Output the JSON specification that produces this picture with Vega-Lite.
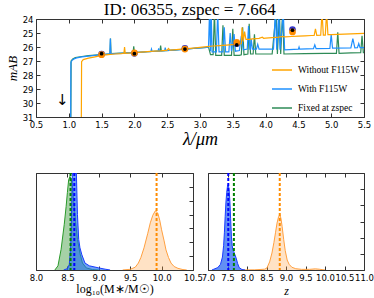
{
  "$schema": "https://vega.github.io/schema/vega-lite/v6.json",
  "padding": {"left": 5, "top": 0, "right": 2, "bottom": 0},
  "background": "white",
  "title": {"text": "ID: 06355, zspec = 7.664", "font": "Liberation Serif", "fontSize": 17, "fontWeight": "normal", "anchor": "middle", "offset": -4, "color": "#000"},
  "bounds": "flush",
  "spacing": 56,
  "resolve": {"scale": {"color": "independent"}, "legend": {"color": "independent"}},
  "datasets": {
    "sed": [
      {"m": "Fixed at zspec", "x": 1.03, "y": 32}, {"m": "Fixed at zspec", "x": 1.035, "y": 27.0}, {"m": "Fixed at zspec", "x": 1.06, "y": 26.85}, {"m": "Fixed at zspec", "x": 1.1, "y": 26.75}, {"m": "Fixed at zspec", "x": 1.2, "y": 26.68}, {"m": "Fixed at zspec", "x": 1.3, "y": 26.62}, {"m": "Fixed at zspec", "x": 1.4, "y": 26.58}, {"m": "Fixed at zspec", "x": 1.5, "y": 26.54}, {"m": "Fixed at zspec", "x": 1.6, "y": 26.5}, {"m": "Fixed at zspec", "x": 1.628, "y": 26.5}, {"m": "Fixed at zspec", "x": 1.636, "y": 25.4}, {"m": "Fixed at zspec", "x": 1.644, "y": 26.48}, {"m": "Fixed at zspec", "x": 1.8, "y": 26.44}, {"m": "Fixed at zspec", "x": 1.98, "y": 26.4}, {"m": "Fixed at zspec", "x": 1.99, "y": 25.95}, {"m": "Fixed at zspec", "x": 2.0, "y": 26.4}, {"m": "Fixed at zspec", "x": 2.2, "y": 26.34}, {"m": "Fixed at zspec", "x": 2.39, "y": 26.28}, {"m": "Fixed at zspec", "x": 2.4, "y": 25.9}, {"m": "Fixed at zspec", "x": 2.41, "y": 26.28}, {"m": "Fixed at zspec", "x": 2.6, "y": 26.22}, {"m": "Fixed at zspec", "x": 2.75, "y": 26.16}, {"m": "Fixed at zspec", "x": 3.0, "y": 26.06}, {"m": "Fixed at zspec", "x": 3.1, "y": 26.02}, {"m": "Fixed at zspec", "x": 3.13, "y": 26.0}, {"m": "Fixed at zspec", "x": 3.16, "y": 26.55}, {"m": "Fixed at zspec", "x": 3.2, "y": 26.55}, {"m": "Fixed at zspec", "x": 3.22, "y": 23.5}, {"m": "Fixed at zspec", "x": 3.24, "y": 26.6}, {"m": "Fixed at zspec", "x": 3.33, "y": 26.6}, {"m": "Fixed at zspec", "x": 3.35, "y": 24.45}, {"m": "Fixed at zspec", "x": 3.37, "y": 26.6}, {"m": "Fixed at zspec", "x": 3.48, "y": 26.6}, {"m": "Fixed at zspec", "x": 3.5, "y": 24.7}, {"m": "Fixed at zspec", "x": 3.52, "y": 26.6}, {"m": "Fixed at zspec", "x": 3.6, "y": 26.6}, {"m": "Fixed at zspec", "x": 3.63, "y": 26.55}, {"m": "Fixed at zspec", "x": 3.65, "y": 24.6}, {"m": "Fixed at zspec", "x": 3.67, "y": 26.55}, {"m": "Fixed at zspec", "x": 3.73, "y": 26.5}, {"m": "Fixed at zspec", "x": 3.75, "y": 24.35}, {"m": "Fixed at zspec", "x": 3.77, "y": 26.5}, {"m": "Fixed at zspec", "x": 3.81, "y": 26.5}, {"m": "Fixed at zspec", "x": 3.83, "y": 25.1}, {"m": "Fixed at zspec", "x": 3.85, "y": 26.5}, {"m": "Fixed at zspec", "x": 4.1, "y": 26.5}, {"m": "Fixed at zspec", "x": 4.16, "y": 23.5}, {"m": "Fixed at zspec", "x": 4.18, "y": 26.5}, {"m": "Fixed at zspec", "x": 4.21, "y": 23.5}, {"m": "Fixed at zspec", "x": 4.23, "y": 26.5}, {"m": "Fixed at zspec", "x": 4.26, "y": 23.5}, {"m": "Fixed at zspec", "x": 4.28, "y": 26.5}, {"m": "Fixed at zspec", "x": 4.6, "y": 26.48}, {"m": "Fixed at zspec", "x": 4.9, "y": 26.45}, {"m": "Fixed at zspec", "x": 5.08, "y": 26.45}, {"m": "Fixed at zspec", "x": 5.1, "y": 24.95}, {"m": "Fixed at zspec", "x": 5.12, "y": 26.45}, {"m": "Fixed at zspec", "x": 5.3, "y": 26.42}, {"m": "Fixed at zspec", "x": 5.45, "y": 26.4}, {"m": "Fixed at zspec", "x": 5.47, "y": 25.2}, {"m": "Fixed at zspec", "x": 5.49, "y": 26.4}, {"m": "Fixed at zspec", "x": 5.5, "y": 26.4},
      {"m": "With F115W", "x": 1.028, "y": 32}, {"m": "With F115W", "x": 1.032, "y": 27.1}, {"m": "With F115W", "x": 1.05, "y": 26.95}, {"m": "With F115W", "x": 1.08, "y": 26.85}, {"m": "With F115W", "x": 1.12, "y": 26.78}, {"m": "With F115W", "x": 1.2, "y": 26.7}, {"m": "With F115W", "x": 1.3, "y": 26.65}, {"m": "With F115W", "x": 1.4, "y": 26.6}, {"m": "With F115W", "x": 1.5, "y": 26.55}, {"m": "With F115W", "x": 1.6, "y": 26.5}, {"m": "With F115W", "x": 1.626, "y": 26.5}, {"m": "With F115W", "x": 1.633, "y": 25.4}, {"m": "With F115W", "x": 1.64, "y": 26.48}, {"m": "With F115W", "x": 1.7, "y": 26.47}, {"m": "With F115W", "x": 1.8, "y": 26.45}, {"m": "With F115W", "x": 1.9, "y": 26.42}, {"m": "With F115W", "x": 2.0, "y": 26.4}, {"m": "With F115W", "x": 2.1, "y": 26.37}, {"m": "With F115W", "x": 2.2, "y": 26.34}, {"m": "With F115W", "x": 2.25, "y": 26.33}, {"m": "With F115W", "x": 2.26, "y": 26.15}, {"m": "With F115W", "x": 2.27, "y": 26.32}, {"m": "With F115W", "x": 2.36, "y": 26.3}, {"m": "With F115W", "x": 2.37, "y": 26.1}, {"m": "With F115W", "x": 2.38, "y": 26.29}, {"m": "With F115W", "x": 2.46, "y": 26.27}, {"m": "With F115W", "x": 2.47, "y": 26.05}, {"m": "With F115W", "x": 2.48, "y": 26.26}, {"m": "With F115W", "x": 2.6, "y": 26.22}, {"m": "With F115W", "x": 2.75, "y": 26.17}, {"m": "With F115W", "x": 2.9, "y": 26.1}, {"m": "With F115W", "x": 3.0, "y": 26.06}, {"m": "With F115W", "x": 3.1, "y": 26.02}, {"m": "With F115W", "x": 3.13, "y": 26.0}, {"m": "With F115W", "x": 3.145, "y": 23.5}, {"m": "With F115W", "x": 3.16, "y": 26.3}, {"m": "With F115W", "x": 3.17, "y": 23.5}, {"m": "With F115W", "x": 3.185, "y": 26.35}, {"m": "With F115W", "x": 3.25, "y": 26.35}, {"m": "With F115W", "x": 3.27, "y": 23.5}, {"m": "With F115W", "x": 3.29, "y": 26.35}, {"m": "With F115W", "x": 3.35, "y": 26.35}, {"m": "With F115W", "x": 3.37, "y": 24.6}, {"m": "With F115W", "x": 3.39, "y": 26.35}, {"m": "With F115W", "x": 3.44, "y": 26.35}, {"m": "With F115W", "x": 3.46, "y": 25.0}, {"m": "With F115W", "x": 3.48, "y": 26.3}, {"m": "With F115W", "x": 3.52, "y": 25.07}, {"m": "With F115W", "x": 3.54, "y": 26.3}, {"m": "With F115W", "x": 3.6, "y": 26.25}, {"m": "With F115W", "x": 3.63, "y": 25.2}, {"m": "With F115W", "x": 3.66, "y": 26.2}, {"m": "With F115W", "x": 3.72, "y": 26.15}, {"m": "With F115W", "x": 3.74, "y": 24.5}, {"m": "With F115W", "x": 3.76, "y": 26.15}, {"m": "With F115W", "x": 3.77, "y": 26.15}, {"m": "With F115W", "x": 3.78, "y": 25.43}, {"m": "With F115W", "x": 3.8, "y": 26.15}, {"m": "With F115W", "x": 3.86, "y": 26.15}, {"m": "With F115W", "x": 3.88, "y": 25.8}, {"m": "With F115W", "x": 3.9, "y": 26.15}, {"m": "With F115W", "x": 4.12, "y": 26.15}, {"m": "With F115W", "x": 4.15, "y": 23.5}, {"m": "With F115W", "x": 4.17, "y": 26.2}, {"m": "With F115W", "x": 4.2, "y": 23.5}, {"m": "With F115W", "x": 4.22, "y": 26.2}, {"m": "With F115W", "x": 4.27, "y": 23.5}, {"m": "With F115W", "x": 4.29, "y": 26.2}, {"m": "With F115W", "x": 4.5, "y": 26.15}, {"m": "With F115W", "x": 4.51, "y": 26.0}, {"m": "With F115W", "x": 4.52, "y": 26.15}, {"m": "With F115W", "x": 4.73, "y": 26.12}, {"m": "With F115W", "x": 4.75, "y": 25.85}, {"m": "With F115W", "x": 4.77, "y": 26.12}, {"m": "With F115W", "x": 4.98, "y": 26.1}, {"m": "With F115W", "x": 5.0, "y": 25.1}, {"m": "With F115W", "x": 5.02, "y": 26.08}, {"m": "With F115W", "x": 5.3, "y": 26.06}, {"m": "With F115W", "x": 5.33, "y": 25.4}, {"m": "With F115W", "x": 5.36, "y": 26.06}, {"m": "With F115W", "x": 5.4, "y": 26.05}, {"m": "With F115W", "x": 5.42, "y": 25.75}, {"m": "With F115W", "x": 5.44, "y": 26.05}, {"m": "With F115W", "x": 5.5, "y": 26.05},
      {"m": "Without F115W", "x": 1.19, "y": 32}, {"m": "Without F115W", "x": 1.195, "y": 27.05}, {"m": "Without F115W", "x": 1.22, "y": 26.9}, {"m": "Without F115W", "x": 1.3, "y": 26.8}, {"m": "Without F115W", "x": 1.4, "y": 26.7}, {"m": "Without F115W", "x": 1.5, "y": 26.6}, {"m": "Without F115W", "x": 1.6, "y": 26.55}, {"m": "Without F115W", "x": 1.7, "y": 26.5}, {"m": "Without F115W", "x": 1.8, "y": 26.47}, {"m": "Without F115W", "x": 1.84, "y": 26.45}, {"m": "Without F115W", "x": 1.85, "y": 26.0}, {"m": "Without F115W", "x": 1.86, "y": 26.45}, {"m": "Without F115W", "x": 1.95, "y": 26.42}, {"m": "Without F115W", "x": 1.99, "y": 26.4}, {"m": "Without F115W", "x": 2.0, "y": 26.2}, {"m": "Without F115W", "x": 2.01, "y": 26.4}, {"m": "Without F115W", "x": 2.1, "y": 26.37}, {"m": "Without F115W", "x": 2.2, "y": 26.33}, {"m": "Without F115W", "x": 2.3, "y": 26.3}, {"m": "Without F115W", "x": 2.4, "y": 26.27}, {"m": "Without F115W", "x": 2.5, "y": 26.22}, {"m": "Without F115W", "x": 2.52, "y": 26.1}, {"m": "Without F115W", "x": 2.54, "y": 26.22}, {"m": "Without F115W", "x": 2.6, "y": 26.2}, {"m": "Without F115W", "x": 2.75, "y": 26.14}, {"m": "Without F115W", "x": 2.9, "y": 26.08}, {"m": "Without F115W", "x": 3.0, "y": 26.03}, {"m": "Without F115W", "x": 3.1, "y": 25.98}, {"m": "Without F115W", "x": 3.2, "y": 25.93}, {"m": "Without F115W", "x": 3.3, "y": 25.9}, {"m": "Without F115W", "x": 3.4, "y": 25.87}, {"m": "Without F115W", "x": 3.5, "y": 25.83}, {"m": "Without F115W", "x": 3.6, "y": 25.8}, {"m": "Without F115W", "x": 3.63, "y": 25.75}, {"m": "Without F115W", "x": 3.64, "y": 24.6}, {"m": "Without F115W", "x": 3.66, "y": 25.6}, {"m": "Without F115W", "x": 3.68, "y": 24.9}, {"m": "Without F115W", "x": 3.7, "y": 25.45}, {"m": "Without F115W", "x": 3.75, "y": 25.45}, {"m": "Without F115W", "x": 3.8, "y": 25.42}, {"m": "Without F115W", "x": 3.85, "y": 25.4}, {"m": "Without F115W", "x": 3.9, "y": 25.38}, {"m": "Without F115W", "x": 3.95, "y": 25.3}, {"m": "Without F115W", "x": 3.97, "y": 25.38}, {"m": "Without F115W", "x": 4.0, "y": 25.36}, {"m": "Without F115W", "x": 4.1, "y": 25.33}, {"m": "Without F115W", "x": 4.2, "y": 25.3}, {"m": "Without F115W", "x": 4.25, "y": 25.25}, {"m": "Without F115W", "x": 4.3, "y": 25.28}, {"m": "Without F115W", "x": 4.4, "y": 25.25}, {"m": "Without F115W", "x": 4.5, "y": 25.22}, {"m": "Without F115W", "x": 4.6, "y": 25.2}, {"m": "Without F115W", "x": 4.7, "y": 25.18}, {"m": "Without F115W", "x": 4.74, "y": 25.18}, {"m": "Without F115W", "x": 4.76, "y": 24.7}, {"m": "Without F115W", "x": 4.78, "y": 25.17}, {"m": "Without F115W", "x": 4.84, "y": 25.16}, {"m": "Without F115W", "x": 4.86, "y": 23.5}, {"m": "Without F115W", "x": 4.88, "y": 25.15}, {"m": "Without F115W", "x": 4.91, "y": 25.15}, {"m": "Without F115W", "x": 4.93, "y": 23.5}, {"m": "Without F115W", "x": 4.95, "y": 25.12}, {"m": "Without F115W", "x": 5.0, "y": 25.12}, {"m": "Without F115W", "x": 5.1, "y": 25.1}, {"m": "Without F115W", "x": 5.2, "y": 25.08}, {"m": "Without F115W", "x": 5.3, "y": 25.06}, {"m": "Without F115W", "x": 5.4, "y": 25.04}, {"m": "Without F115W", "x": 5.5, "y": 25.02}
    ],
    "phot_with": [{"x": 1.5, "y": 26.5}, {"x": 2.0, "y": 26.45}, {"x": 2.77, "y": 26.1}, {"x": 3.56, "y": 25.75}, {"x": 4.41, "y": 24.75}],
    "phot_without": [{"x": 1.5, "y": 26.55}, {"x": 2.0, "y": 26.42}, {"x": 2.77, "y": 26.15}, {"x": 3.56, "y": 25.67}, {"x": 4.41, "y": 24.92}],
    "phot_obs": [{"x": 1.5, "y": 26.48}, {"x": 2.0, "y": 26.48}, {"x": 2.77, "y": 26.15}, {"x": 3.56, "y": 25.85}, {"x": 4.41, "y": 24.8}],
    "limit": [{"x": 0.9, "y": 29.75}],
    "mass": [
      {"fit": "Without", "x": 9.38, "p": 0}, {"fit": "Without", "x": 9.5, "p": 0.05}, {"fit": "Without", "x": 9.58, "p": 0.2}, {"fit": "Without", "x": 9.63, "p": 0.5}, {"fit": "Without", "x": 9.67, "p": 0.9}, {"fit": "Without", "x": 9.72, "p": 1.6}, {"fit": "Without", "x": 9.78, "p": 2.65}, {"fit": "Without", "x": 9.82, "p": 3.4}, {"fit": "Without", "x": 9.86, "p": 3.95}, {"fit": "Without", "x": 9.9, "p": 4.27}, {"fit": "Without", "x": 9.94, "p": 4.1}, {"fit": "Without", "x": 9.97, "p": 3.6}, {"fit": "Without", "x": 10.0, "p": 2.9}, {"fit": "Without", "x": 10.04, "p": 2.1}, {"fit": "Without", "x": 10.07, "p": 1.45}, {"fit": "Without", "x": 10.11, "p": 0.9}, {"fit": "Without", "x": 10.15, "p": 0.5}, {"fit": "Without", "x": 10.2, "p": 0.25}, {"fit": "Without", "x": 10.26, "p": 0.12}, {"fit": "Without", "x": 10.34, "p": 0.03}, {"fit": "Without", "x": 10.4, "p": 0},
      {"fit": "Fixed", "x": 8.3, "p": 0}, {"fit": "Fixed", "x": 8.35, "p": 0.3}, {"fit": "Fixed", "x": 8.4, "p": 1.5}, {"fit": "Fixed", "x": 8.45, "p": 3.3}, {"fit": "Fixed", "x": 8.48, "p": 4.6}, {"fit": "Fixed", "x": 8.5, "p": 5.6}, {"fit": "Fixed", "x": 8.52, "p": 6.5}, {"fit": "Fixed", "x": 8.54, "p": 6.75}, {"fit": "Fixed", "x": 8.56, "p": 6.6}, {"fit": "Fixed", "x": 8.58, "p": 6.0}, {"fit": "Fixed", "x": 8.6, "p": 5.0}, {"fit": "Fixed", "x": 8.63, "p": 3.5}, {"fit": "Fixed", "x": 8.66, "p": 2.2}, {"fit": "Fixed", "x": 8.7, "p": 1.2}, {"fit": "Fixed", "x": 8.74, "p": 0.5}, {"fit": "Fixed", "x": 8.8, "p": 0.15}, {"fit": "Fixed", "x": 8.9, "p": 0.03}, {"fit": "Fixed", "x": 9.0, "p": 0},
      {"fit": "With", "x": 8.44, "p": 0}, {"fit": "With", "x": 8.5, "p": 0.1}, {"fit": "With", "x": 8.53, "p": 0.4}, {"fit": "With", "x": 8.55, "p": 1.5}, {"fit": "With", "x": 8.56, "p": 2.8}, {"fit": "With", "x": 8.57, "p": 5.0}, {"fit": "With", "x": 8.58, "p": 7.2}, {"fit": "With", "x": 8.6, "p": 9.0}, {"fit": "With", "x": 8.62, "p": 9.2}, {"fit": "With", "x": 8.64, "p": 7.5}, {"fit": "With", "x": 8.66, "p": 4.0}, {"fit": "With", "x": 8.68, "p": 2.2}, {"fit": "With", "x": 8.7, "p": 1.6}, {"fit": "With", "x": 8.73, "p": 1.1}, {"fit": "With", "x": 8.78, "p": 0.5}, {"fit": "With", "x": 8.85, "p": 0.3}, {"fit": "With", "x": 9.0, "p": 0.15}, {"fit": "With", "x": 9.1, "p": 0.06}, {"fit": "With", "x": 9.18, "p": 0}
    ],
    "massbest": [{"fit": "Fixed", "x": 8.55}, {"fit": "With", "x": 8.61}, {"fit": "Without", "x": 9.92}],
    "zpdf": [
      {"fit": "Without", "x": 7.85, "p": 0}, {"fit": "Without", "x": 8.2, "p": 0.01}, {"fit": "Without", "x": 8.45, "p": 0.05}, {"fit": "Without", "x": 8.51, "p": 0.12}, {"fit": "Without", "x": 8.58, "p": 0.5}, {"fit": "Without", "x": 8.64, "p": 1.05}, {"fit": "Without", "x": 8.69, "p": 1.7}, {"fit": "Without", "x": 8.73, "p": 2.3}, {"fit": "Without", "x": 8.77, "p": 2.9}, {"fit": "Without", "x": 8.81, "p": 3.3}, {"fit": "Without", "x": 8.84, "p": 3.42}, {"fit": "Without", "x": 8.87, "p": 3.2}, {"fit": "Without", "x": 8.9, "p": 2.7}, {"fit": "Without", "x": 8.94, "p": 1.9}, {"fit": "Without", "x": 8.98, "p": 1.2}, {"fit": "Without", "x": 9.03, "p": 0.62}, {"fit": "Without", "x": 9.08, "p": 0.35}, {"fit": "Without", "x": 9.15, "p": 0.17}, {"fit": "Without", "x": 9.25, "p": 0.08}, {"fit": "Without", "x": 9.4, "p": 0.04}, {"fit": "Without", "x": 9.6, "p": 0.04}, {"fit": "Without", "x": 9.75, "p": 0.07}, {"fit": "Without", "x": 9.85, "p": 0.05}, {"fit": "Without", "x": 10.0, "p": 0},
      {"fit": "With", "x": 7.1, "p": 0}, {"fit": "With", "x": 7.15, "p": 0.05}, {"fit": "With", "x": 7.25, "p": 0.15}, {"fit": "With", "x": 7.32, "p": 0.35}, {"fit": "With", "x": 7.37, "p": 0.8}, {"fit": "With", "x": 7.4, "p": 1.5}, {"fit": "With", "x": 7.42, "p": 2.3}, {"fit": "With", "x": 7.44, "p": 3.3}, {"fit": "With", "x": 7.46, "p": 4.2}, {"fit": "With", "x": 7.48, "p": 4.8}, {"fit": "With", "x": 7.5, "p": 5.2}, {"fit": "With", "x": 7.52, "p": 5.28}, {"fit": "With", "x": 7.54, "p": 5.0}, {"fit": "With", "x": 7.56, "p": 4.3}, {"fit": "With", "x": 7.58, "p": 3.2}, {"fit": "With", "x": 7.6, "p": 2.1}, {"fit": "With", "x": 7.62, "p": 1.5}, {"fit": "With", "x": 7.64, "p": 1.25}, {"fit": "With", "x": 7.66, "p": 1.15}, {"fit": "With", "x": 7.69, "p": 0.95}, {"fit": "With", "x": 7.72, "p": 0.75}, {"fit": "With", "x": 7.76, "p": 0.4}, {"fit": "With", "x": 7.8, "p": 0.15}, {"fit": "With", "x": 7.87, "p": 0.03}, {"fit": "With", "x": 7.95, "p": 0}
    ],
    "zbest": [{"fit": "With", "x": 7.52}, {"fit": "Fixed", "x": 7.664}, {"fit": "Without", "x": 8.84}]
  },
  "vconcat": [
    {
      "width": 328,
      "height": 98,
      "resolve": {"scale": {"x": "independent", "y": "independent"}},
      "layer": [
        {
          "encoding": {
            "x": {"field": "x", "type": "quantitative", "scale": {"domain": [0.5, 5.5], "nice": false, "zero": false}, "axis": {"values": [0.5, 1, 1.5, 2, 2.5, 3, 3.5, 4, 4.5, 5, 5.5], "format": ".1f", "title": "λ/μm", "titleFontSize": 18, "titleFontStyle": "italic", "titlePadding": 2}},
            "y": {"field": "y", "type": "quantitative", "scale": {"domain": [24, 31], "reverse": true, "nice": false, "zero": false}, "axis": {"values": [24, 25, 26, 27, 28, 29, 30, 31], "title": "mAB", "titleFontSize": 13, "titleFontStyle": "italic", "titlePadding": 3}},
            "color": {"field": "m", "type": "nominal", "sort": null, "scale": {"domain": ["Without F115W", "With F115W", "Fixed at zspec"], "range": ["#ffa500", "#1e90ff", "#2e8b57"]},
              "legend": {"orient": "bottom-right", "title": null, "symbolType": "stroke", "symbolSize": 400, "symbolStrokeWidth": 1.5, "labelFont": "Liberation Serif", "labelFontSize": 9.5, "rowPadding": 3, "offset": 4, "padding": 0, "labelOffset": 5}}
          },
          "layer": [
            {"data": {"name": "sed"}, "transform": [{"filter": "datum.m === 'Fixed at zspec'"}], "mark": {"type": "line", "strokeWidth": 1.2, "clip": true}},
            {"data": {"name": "sed"}, "transform": [{"filter": "datum.m === 'With F115W'"}], "mark": {"type": "line", "strokeWidth": 1.2, "clip": true}},
            {"data": {"name": "sed"}, "transform": [{"filter": "datum.m === 'Without F115W'"}], "mark": {"type": "line", "strokeWidth": 1.2, "clip": true}},
            {"data": {"name": "phot_with"}, "mark": {"type": "point", "filled": true, "color": "#3535c8", "opacity": 1, "size": 45}, "encoding": {"color": {"value": "#3535c8"}}},
            {"data": {"name": "phot_without"}, "mark": {"type": "point", "filled": true, "color": "#ff8c00", "opacity": 1, "size": 45}, "encoding": {"color": {"value": "#ff8c00"}}},
            {"data": {"name": "limit"}, "mark": {"type": "text", "text": "↓", "fontSize": 15, "color": "#000", "font": "DejaVu Sans"}, "encoding": {"color": {"value": "#000"}}}
          ]
        },
        {
          "data": {"name": "phot_obs"},
          "mark": {"type": "point", "filled": true, "color": "#000", "opacity": 1, "size": 14},
          "encoding": {
            "x": {"field": "x", "type": "quantitative", "scale": {"domain": [0.5, 5.5], "nice": false, "zero": false}, "axis": {"orient": "top", "values": [0.5, 1, 1.5, 2, 2.5, 3, 3.5, 4, 4.5, 5, 5.5], "labels": false, "title": null}},
            "y": {"field": "y", "type": "quantitative", "scale": {"domain": [24, 31], "reverse": true, "nice": false, "zero": false}, "axis": {"orient": "right", "values": [24, 25, 26, 27, 28, 29, 30, 31], "labels": false, "title": null}}
          }
        }
      ]
    },
    {
      "bounds": "flush",
      "spacing": 15,
      "hconcat": [
        {
          "width": 157,
          "height": 97,
          "resolve": {"scale": {"x": "independent", "y": "independent"}},
          "layer": [
            {
              "encoding": {
                "x": {"field": "x", "type": "quantitative", "scale": {"domain": [8, 10.5], "nice": false, "zero": false}, "axis": {"values": [8, 8.5, 9, 9.5, 10, 10.5], "format": ".1f", "title": "log₁₀(M∗/M☉)", "titleFontSize": 12, "titlePadding": 2}}
              },
              "layer": [
                {"data": {"name": "mass"}, "transform": [{"filter": "datum.fit === 'Without'"}], "mark": {"type": "area", "color": "#ffa040", "opacity": 0.3, "clip": true},
                  "encoding": {"y": {"field": "p", "type": "quantitative", "scale": {"domain": [0, 7], "nice": false, "zero": false}, "axis": {"values": [0, 1, 2, 3, 4, 5, 6, 7], "labels": false, "title": null}}}},
                {"data": {"name": "mass"}, "transform": [{"filter": "datum.fit === 'Without'"}], "mark": {"type": "line", "color": "#ffa040", "strokeWidth": 1, "clip": true}, "encoding": {"y": {"field": "p", "type": "quantitative"}}},
                {"data": {"name": "mass"}, "transform": [{"filter": "datum.fit === 'Fixed'"}], "mark": {"type": "area", "color": "#3a9a3a", "opacity": 0.45, "clip": true}, "encoding": {"y": {"field": "p", "type": "quantitative"}}},
                {"data": {"name": "mass"}, "transform": [{"filter": "datum.fit === 'Fixed'"}], "mark": {"type": "line", "color": "#2a9a2a", "strokeWidth": 1, "clip": true}, "encoding": {"y": {"field": "p", "type": "quantitative"}}},
                {"data": {"name": "mass"}, "transform": [{"filter": "datum.fit === 'With'"}], "mark": {"type": "area", "color": "#2070f0", "opacity": 0.65, "clip": true}, "encoding": {"y": {"field": "p", "type": "quantitative"}}},
                {"data": {"name": "mass"}, "transform": [{"filter": "datum.fit === 'With'"}], "mark": {"type": "line", "color": "#1a3cff", "strokeWidth": 1, "clip": true}, "encoding": {"y": {"field": "p", "type": "quantitative"}}},
                {"data": {"name": "massbest"}, "transform": [{"filter": "datum.fit === 'Fixed'"}], "mark": {"type": "rule", "color": "#008000", "strokeWidth": 2, "strokeDash": [3, 2]}},
                {"data": {"name": "massbest"}, "transform": [{"filter": "datum.fit === 'With'"}], "mark": {"type": "rule", "color": "#0000ff", "strokeWidth": 2, "strokeDash": [3, 2]}},
                {"data": {"name": "massbest"}, "transform": [{"filter": "datum.fit === 'Without'"}], "mark": {"type": "rule", "color": "#ff8c00", "strokeWidth": 2, "strokeDash": [3, 2]}}
              ]
            },
            {
              "data": {"name": "mass"},
              "mark": {"type": "point", "opacity": 0, "clip": true},
              "encoding": {
                "x": {"field": "x", "type": "quantitative", "scale": {"domain": [8, 10.5], "nice": false, "zero": false}, "axis": {"orient": "top", "values": [8, 8.5, 9, 9.5, 10, 10.5], "labels": false, "title": null}},
                "y": {"field": "p", "type": "quantitative", "scale": {"domain": [0, 7], "nice": false, "zero": false}, "axis": {"orient": "right", "values": [0, 1, 2, 3, 4, 5, 6, 7], "labels": false, "title": null}}
              }
            }
          ]
        },
        {
          "width": 156,
          "height": 97,
          "resolve": {"scale": {"x": "independent", "y": "independent"}},
          "layer": [
            {
              "encoding": {
                "x": {"field": "x", "type": "quantitative", "scale": {"domain": [7, 11], "nice": false, "zero": false}, "axis": {"values": [7, 7.5, 8, 8.5, 9, 9.5, 10, 10.5, 11], "format": ".1f", "title": "z", "titleFontSize": 12, "titleFontStyle": "italic", "titlePadding": 4}}
              },
              "layer": [
                {"data": {"name": "zpdf"}, "transform": [{"filter": "datum.fit === 'Without'"}], "mark": {"type": "area", "color": "#ffa040", "opacity": 0.3, "clip": true},
                  "encoding": {"y": {"field": "p", "type": "quantitative", "scale": {"domain": [0, 6], "nice": false, "zero": false}, "axis": {"values": [0, 1, 2, 3, 4, 5, 6], "labels": false, "title": null}}}},
                {"data": {"name": "zpdf"}, "transform": [{"filter": "datum.fit === 'Without'"}], "mark": {"type": "line", "color": "#ffa040", "strokeWidth": 1, "clip": true}, "encoding": {"y": {"field": "p", "type": "quantitative"}}},
                {"data": {"name": "zpdf"}, "transform": [{"filter": "datum.fit === 'With'"}], "mark": {"type": "area", "color": "#2060f0", "opacity": 0.7, "clip": true}, "encoding": {"y": {"field": "p", "type": "quantitative"}}},
                {"data": {"name": "zpdf"}, "transform": [{"filter": "datum.fit === 'With'"}], "mark": {"type": "line", "color": "#1a3cff", "strokeWidth": 1, "clip": true}, "encoding": {"y": {"field": "p", "type": "quantitative"}}},
                {"data": {"name": "zbest"}, "transform": [{"filter": "datum.fit === 'Fixed'"}], "mark": {"type": "rule", "color": "#008000", "strokeWidth": 2, "strokeDash": [3, 2]}},
                {"data": {"name": "zbest"}, "transform": [{"filter": "datum.fit === 'With'"}], "mark": {"type": "rule", "color": "#0000ff", "strokeWidth": 2, "strokeDash": [3, 2]}},
                {"data": {"name": "zbest"}, "transform": [{"filter": "datum.fit === 'Without'"}], "mark": {"type": "rule", "color": "#ff8c00", "strokeWidth": 2, "strokeDash": [3, 2]}}
              ]
            },
            {
              "data": {"name": "zpdf"},
              "mark": {"type": "point", "opacity": 0, "clip": true},
              "encoding": {
                "x": {"field": "x", "type": "quantitative", "scale": {"domain": [7, 11], "nice": false, "zero": false}, "axis": {"orient": "top", "values": [7, 7.5, 8, 8.5, 9, 9.5, 10, 10.5, 11], "labels": false, "title": null}},
                "y": {"field": "p", "type": "quantitative", "scale": {"domain": [0, 6], "nice": false, "zero": false}, "axis": {"orient": "right", "values": [0, 1, 2, 3, 4, 5, 6], "labels": false, "title": null}}
              }
            }
          ]
        }
      ]
    }
  ],
  "config": {
    "view": {"stroke": "#333", "strokeWidth": 1},
    "axis": {"domain": false, "grid": false, "tickSize": -4, "tickColor": "#333", "labelFont": "DejaVu Sans", "labelFontSize": 8.5, "labelColor": "#000", "labelPadding": 7, "labelFlush": false, "labelOverlap": false, "titleFont": "Liberation Serif", "titleFontWeight": "normal", "titleColor": "#000"}
  }
}
